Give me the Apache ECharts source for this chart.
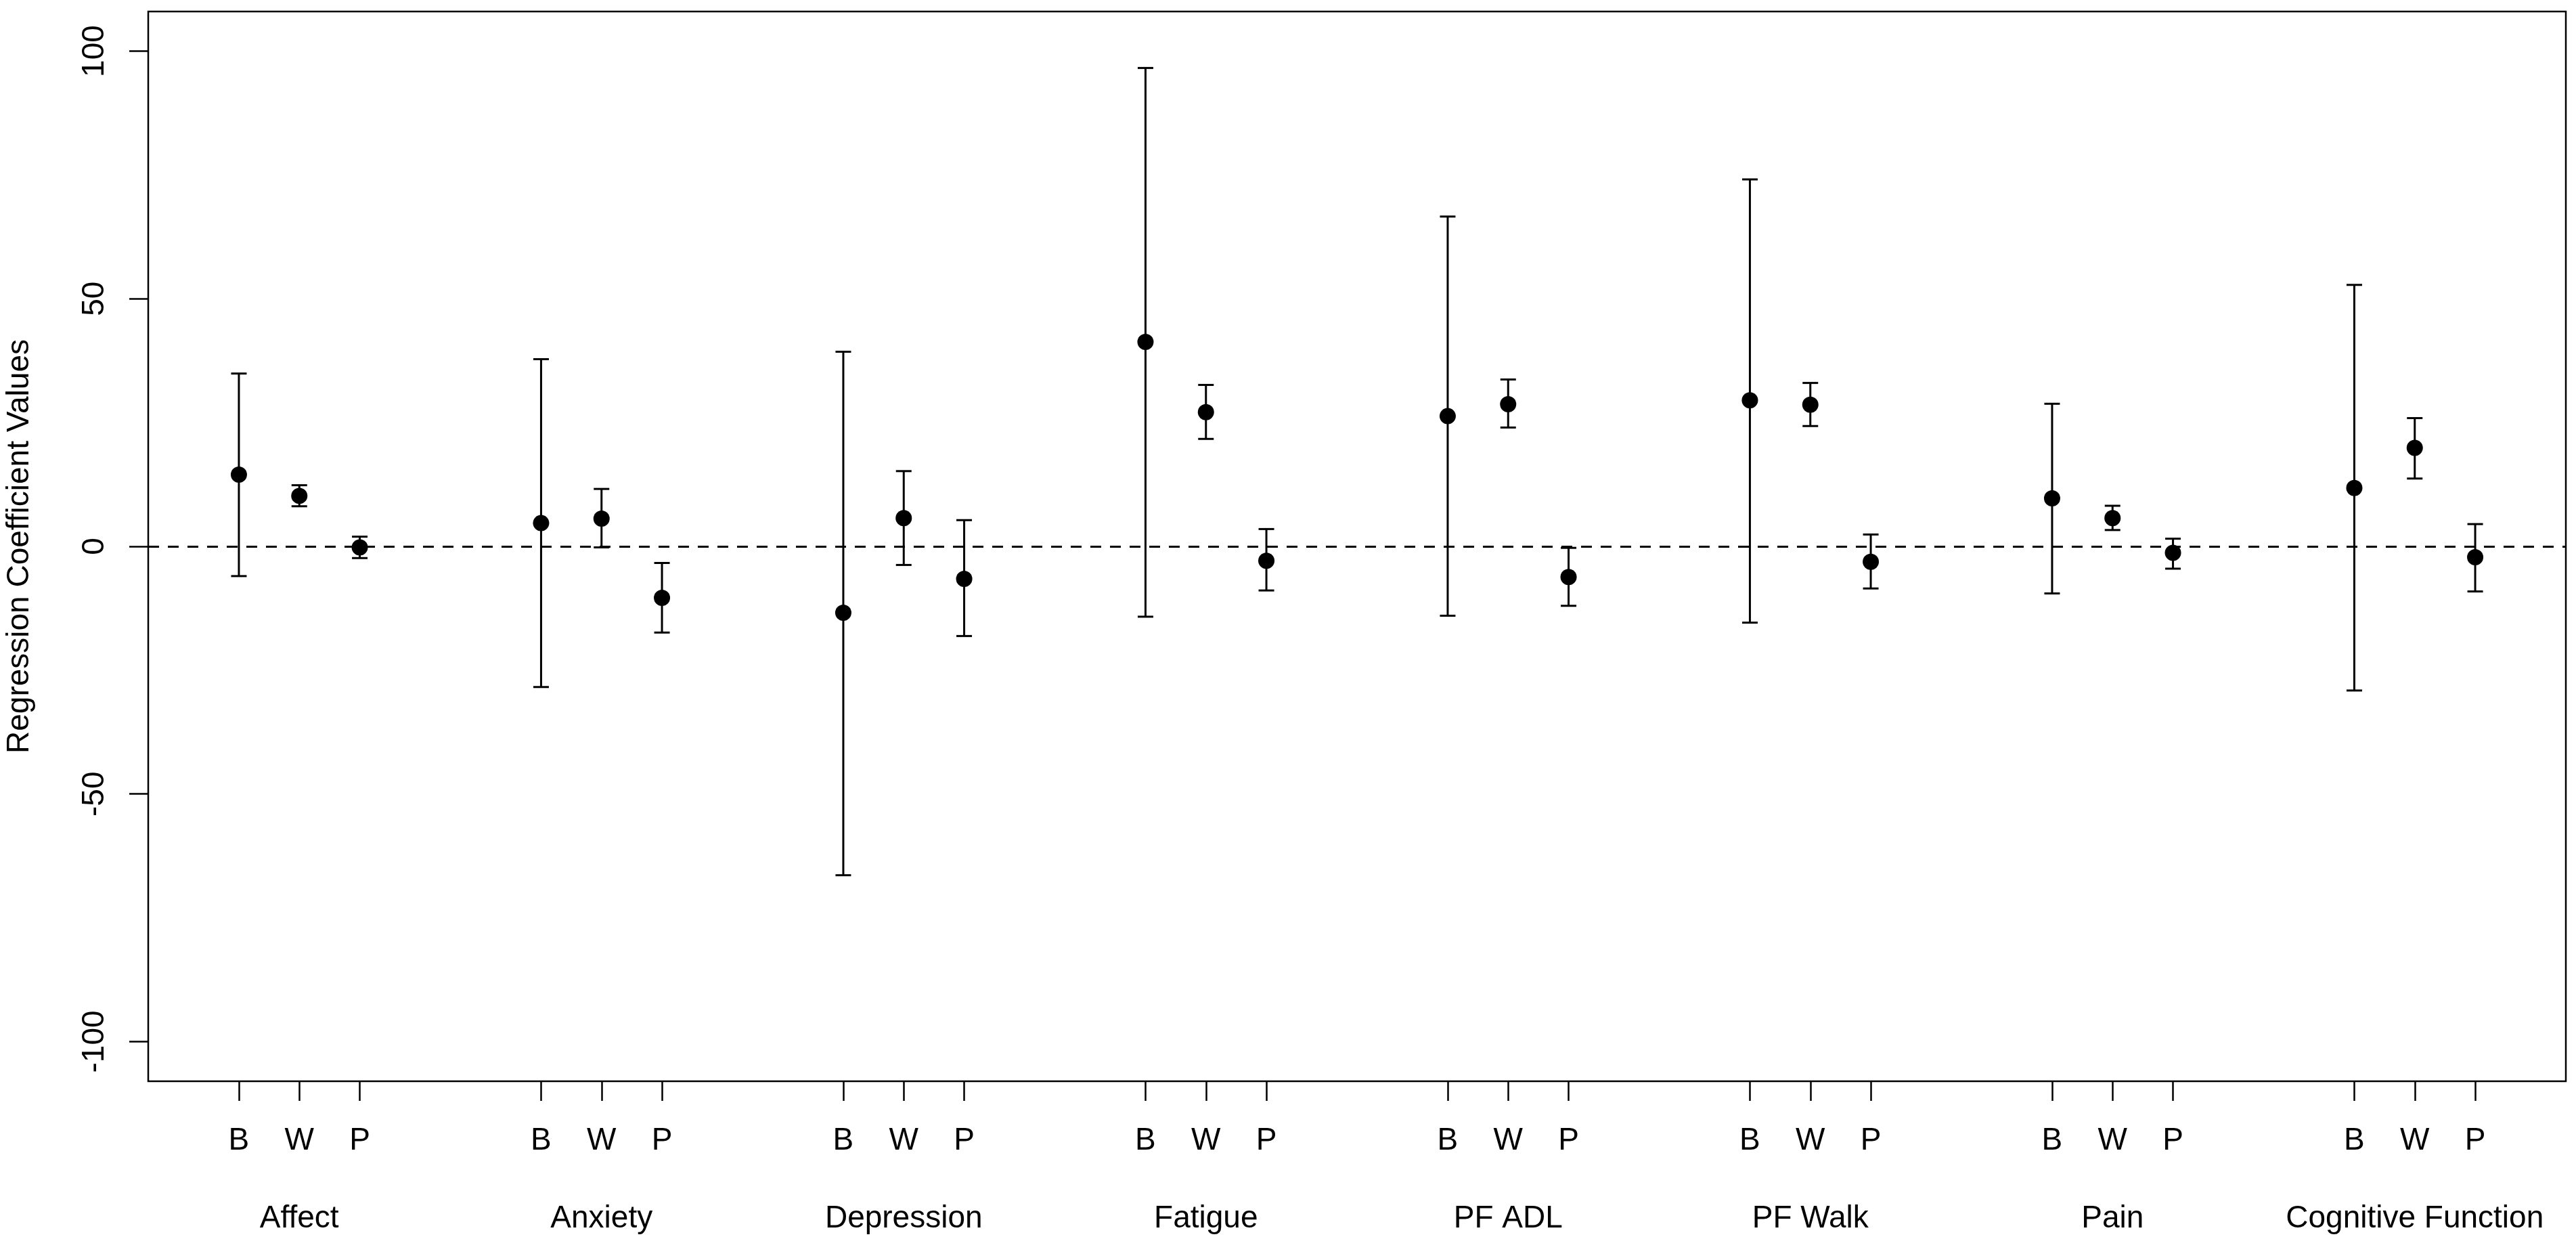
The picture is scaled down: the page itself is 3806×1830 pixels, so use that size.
<!DOCTYPE html>
<html>
<head>
<meta charset="utf-8">
<script src="https://cdn.jsdelivr.net/npm/echarts@6/dist/echarts.min.js"></script>
<style>
html,body{margin:0;padding:0;background:#fff;}
#chart{width:3806px;height:1830px;}
</style>
</head>
<body>
<div id="chart"></div>
<script>
// ---- data ----
const categories = ['Affect','Anxiety','Depression','Fatigue','PF ADL','PF Walk','Pain','Cognitive Function'];
const effectTypes = ['B','W','P'];
const yTicks = [-100, -50, 0, 50, 100];

const estB  = [14.5,   4.7, -13.4, 41.3, 26.3, 29.5,  9.7, 11.8];
const lowB  = [-6.0, -28.4, -66.4, -14.2, -14.0, -15.4, -9.5, -29.1];
const highB = [34.9,  37.8,  39.3, 96.6, 66.6, 74.1, 28.8, 52.8];

const estW  = [10.2,  5.6,  5.7, 27.1, 28.7, 28.6, 5.7, 19.9];
const lowW  = [ 8.1, -0.2, -3.75, 21.7, 24.0, 24.3, 3.3, 13.7];
const highW = [12.35, 11.6, 15.2, 32.6, 33.7, 33.0, 8.2, 25.9];

const estP  = [-0.2, -10.4, -6.55, -2.9, -6.2, -3.1, -1.3, -2.2];
const lowP  = [-2.36, -17.4, -18.1, -8.9, -12.0, -8.5, -4.5, -9.1];
const highP = [1.96, -3.35, 5.3, 3.5, -0.3, 2.4, 1.55, 4.5];

// ---- build axis slots (groups of 3 with 2 empty slots between) ----
const slotsPerGroup = 5;
const nSlots = categories.length * slotsPerGroup;
const tickLabels = [];
const groupLabels = [];
for (let i = 0; i < nSlots; i++) {
  const g = Math.floor(i / slotsPerGroup), k = i % slotsPerGroup - 1;
  tickLabels.push(k >= 0 && k < 3 ? effectTypes[k] : '');
  groupLabels.push(k === 1 ? categories[g] : '');
}
const est = [estB, estW, estP], low = [lowB, lowW, lowP], high = [highB, highW, highP];
const points = [], bars = [];
categories.forEach((c, g) => {
  for (let k = 0; k < 3; k++) {
    const x = g * slotsPerGroup + 1 + k;
    points.push([x, est[k][g]]);
    bars.push([x, low[k][g], high[k][g]]);
  }
});

const FONT = 'Liberation Sans, Arial, Helvetica, sans-serif';
const chart = echarts.init(document.getElementById('chart'), null, {renderer: 'canvas'});
chart.setOption({
  animation: false,
  backgroundColor: '#fff',
  grid: {
    left: 219, right: 15, top: 17, bottom: 233,
    show: true, borderColor: '#000', borderWidth: 2.5, backgroundColor: 'transparent',
    containLabel: false, outerBoundsMode: 'none'
  },
  xAxis: [
    {
      type: 'category', data: tickLabels, boundaryGap: true, position: 'bottom',
      axisLine: {show: false, onZero: false},
      axisTick: {show: true, alignWithLabel: true, length: 29, inside: false,
        interval: (i) => tickLabels[i] !== '', lineStyle: {color: '#000', width: 2.5}},
      axisLabel: {show: true, interval: 0, margin: 65, fontSize: 46, color: '#000', fontFamily: FONT},
      splitLine: {show: false}
    },
    {
      type: 'category', data: groupLabels, boundaryGap: true, position: 'bottom',
      axisLine: {show: false, onZero: false}, axisTick: {show: false},
      axisLabel: {show: true, interval: 0, margin: 180, fontSize: 46, color: '#000', fontFamily: FONT},
      splitLine: {show: false}
    }
  ],
  yAxis: {
    type: 'value', min: -108, max: 108,
    name: 'Regression Coefficient Values', nameLocation: 'middle', nameRotate: 90, nameGap: 167,
    nameTextStyle: {fontSize: 46, color: '#000', fontFamily: FONT},
    axisLine: {show: false, onZero: false},
    axisTick: {show: true, customValues: yTicks, length: 28, lineStyle: {color: '#000', width: 2.5}},
    axisLabel: {show: true, customValues: yTicks, rotate: 90, margin: 56, fontSize: 46, color: '#000', fontFamily: FONT},
    splitLine: {show: false}
  },
  series: [
    {
      type: 'custom', xAxisIndex: 0, data: bars, z: 2,
      encode: {x: 0, y: [1, 2]},
      renderItem: function (params, api) {
        const x = api.value(0);
        const lo = api.coord([x, api.value(1)]);
        const hi = api.coord([x, api.value(2)]);
        const hw = 11.5;
        const st = {stroke: '#000', lineWidth: 3, fill: null};
        return {type: 'group', children: [
          {type: 'line', shape: {x1: lo[0], y1: lo[1], x2: hi[0], y2: hi[1]}, style: st},
          {type: 'line', shape: {x1: lo[0] - hw, y1: lo[1], x2: lo[0] + hw, y2: lo[1]}, style: st},
          {type: 'line', shape: {x1: hi[0] - hw, y1: hi[1], x2: hi[0] + hw, y2: hi[1]}, style: st}
        ]};
      }
    },
    {
      type: 'scatter', xAxisIndex: 0, data: points, symbol: 'circle', symbolSize: 24, z: 3,
      itemStyle: {color: '#000', opacity: 1},
      markLine: {
        silent: true, symbol: ['none', 'none'], label: {show: false},
        lineStyle: {type: [16, 13], color: '#000', width: 3},
        data: [{yAxis: 0}]
      }
    }
  ]
});
</script>
</body>
</html>
